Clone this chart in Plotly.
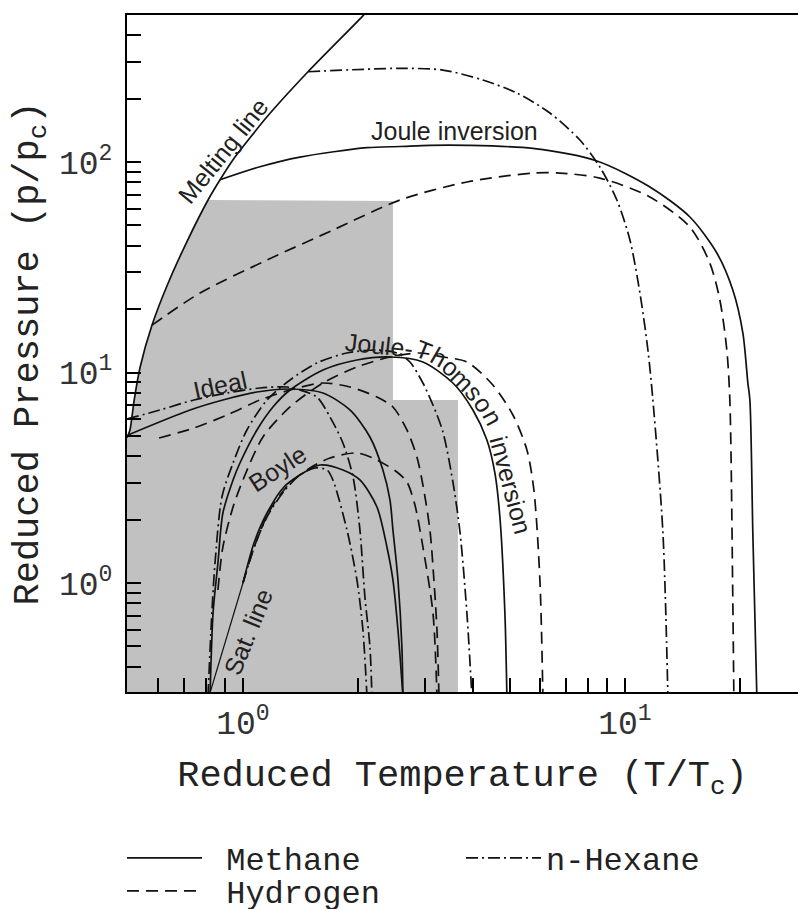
import numpy as np
import plotly.graph_objects as go

# ---------------- data (reduced temperature T/Tc, reduced pressure p/pc) ----------------
melt_T = [0.497, 0.506, 0.519, 0.538, 0.578, 0.633, 0.713, 0.810, 0.871, 0.942, 1.156, 1.480, 2.061, 2.10]
melt_p = [4.9, 5.33, 7.40, 10.62, 16.8, 25.9, 41.8, 66.0, 82.4, 102.6, 164.0, 268.5, 495, 515]

sat_T = [0.815, 1.0]
sat_p = [0.29, 1.0]

shade_T = [0.49, 0.497, 0.506, 0.519, 0.538, 0.578, 0.633, 0.713, 0.810, 2.47, 2.47, 3.655, 3.655, 0.49]
shade_p = [0.29, 4.9, 5.33, 7.40, 10.62, 16.8, 25.9, 41.8, 66.0, 65.3, 7.40, 7.40, 0.29, 0.29]

# Joule inversion curves
ji_methane_T = [0.871, 1.108, 1.410, 2.112, 2.576, 3.087, 3.86, 5.74, 8.45, 11.63, 14.80, 17.41, 19.17, 20.37, 20.99, 21.25, 21.63, 22.16]
ji_methane_p = [82.4, 95.0, 105.6, 117.0, 118.5, 120.0, 120.0, 116.0, 101.1, 76.1, 54.8, 36.96, 24.66, 15.40, 8.92, 7.40, 1.727, 0.29]
ji_hydrogen_T = [0.578, 0.772, 1.156, 1.720, 2.576, 3.86, 5.74, 6.76, 8.60, 11.63, 14.80, 16.69, 17.73, 18.49, 18.83, 19.17, 19.29]
ji_hydrogen_p = [16.8, 23.86, 34.22, 47.5, 66.0, 80.4, 88.6, 88.6, 83.9, 68.2, 49.1, 33.1, 22.1, 12.79, 7.40, 0.830, 0.29]
ji_hexane_T = [1.480, 2.576, 3.339, 4.249, 5.216, 6.364, 7.625, 8.60, 9.53, 10.31, 10.95, 11.49, 11.84, 12.58, 12.96]
ji_hexane_p = [268.5, 278.7, 273.5, 245.2, 212.7, 170.9, 127.2, 94.7, 66.0, 42.6, 23.86, 12.79, 7.40, 1.727, 0.29]

# Joule-Thomson inversion curves
jt_methane_T = [0.820, 0.835, 0.860, 0.886, 0.942, 0.982, 1.088, 1.198, 1.328, 1.620, 1.988, 2.426, 2.959, 3.546, 4.000, 4.353, 4.567, 4.707, 4.851, 4.910]
jt_methane_p = [0.29, 0.720, 1.245, 2.150, 3.086, 3.716, 5.332, 6.858, 8.257, 10.28, 11.47, 11.85, 11.22, 8.915, 6.636, 4.779, 3.332, 2.058, 0.720, 0.29]
jt_hydrogen_T = [0.860, 0.886, 0.942, 1.0, 1.128, 1.328, 1.620, 1.988, 2.426, 2.906, 3.339, 3.858, 4.512, 5.091, 5.540, 5.778, 5.991, 6.100]
jt_hydrogen_p = [0.926, 1.483, 2.296, 3.086, 4.939, 6.858, 8.915, 10.62, 11.85, 12.38, 11.85, 11.22, 8.722, 6.283, 4.284, 2.765, 1.033, 0.29]
jt_hexane_T = [0.810, 0.829, 0.845, 0.881, 0.942, 1.024, 1.156, 1.328, 1.562, 1.872, 2.243, 2.530, 2.736, 2.959, 3.144, 3.339, 3.546, 3.700, 3.858, 3.976]
jt_hexane_p = [0.29, 0.720, 1.245, 2.563, 3.716, 5.332, 7.402, 9.213, 11.10, 12.38, 12.79, 12.38, 11.22, 8.915, 7.01, 5.216, 3.018, 1.747, 0.720, 0.29]

# Ideal curves (Z = 1)
ideal_methane_T = [0.500, 0.727, 0.886, 1.088, 1.328, 1.620, 1.906, 2.150, 2.325, 2.426, 2.470, 2.546, 2.607, 2.623]
ideal_methane_p = [5.049, 6.636, 7.402, 8.078, 8.348, 7.990, 6.636, 4.939, 3.443, 2.480, 1.786, 1.033, 0.497, 0.29]
ideal_hydrogen_T = [0.603, 0.744, 0.908, 1.108, 1.328, 1.620, 1.906, 2.243, 2.470, 2.687, 2.854, 2.959, 3.087, 3.162, 3.221, 3.260]
ideal_hydrogen_p = [4.886, 5.449, 6.283, 7.402, 8.257, 8.915, 8.533, 7.648, 6.858, 5.332, 3.969, 2.921, 1.786, 1.033, 0.598, 0.29]
ideal_hexane_T = [0.497, 0.606, 0.744, 0.908, 1.108, 1.304, 1.410, 1.562, 1.690, 1.827, 1.941, 2.024, 2.086, 2.150, 2.176]
ideal_hexane_p = [6.013, 6.636, 7.402, 7.990, 8.440, 8.533, 8.257, 7.648, 6.146, 4.625, 3.2, 1.786, 0.858, 0.497, 0.29]

# Boyle curves
boyle_methane_T = [1.0, 1.069, 1.156, 1.280, 1.410, 1.591, 1.827, 2.024, 2.243, 2.382, 2.470, 2.546, 2.623]
boyle_methane_p = [1.0, 1.549, 2.150, 2.858, 3.260, 3.636, 3.443, 3.086, 2.296, 1.483, 1.033, 0.598, 0.29]
boyle_hydrogen_T = [1.0, 1.075, 1.177, 1.328, 1.497, 1.690, 1.988, 2.243, 2.530, 2.687, 2.820, 2.959, 3.144, 3.221]
boyle_hydrogen_p = [1.0, 1.515, 2.222, 2.986, 3.518, 3.925, 4.146, 3.839, 3.368, 3.018, 2.347, 1.483, 0.720, 0.29]
boyle_hexane_T = [1.0, 1.075, 1.163, 1.288, 1.410, 1.543, 1.660, 1.720, 1.872, 1.988, 2.061, 2.112]
boyle_hexane_p = [1.0, 1.515, 2.104, 2.765, 3.260, 3.518, 3.443, 3.086, 1.786, 1.033, 0.598, 0.29]

# axis ticks (labelled decades; every 1..9 multiple gets an unlabelled minor tick)
x_major = [1, 10]
x_major_text = ["10<sup>0</sup>", "10<sup>1</sup>"]
y_major = [1, 10, 100]
y_major_text = ["10<sup>0</sup>", "10<sup>1</sup>", "10<sup>2</sup>"]

# ---------------- styles ----------------
INK = "#111111"
LW = 1.7
styles = {
    "Methane": dict(color=INK, width=LW, dash="solid"),
    "Hydrogen": dict(color=INK, width=LW, dash="12px,7px"),
    "n-Hexane": dict(color=INK, width=LW, dash="12px,4px,2px,4px"),
}
legend_of = {"Methane": "legend", "n-Hexane": "legend2", "Hydrogen": "legend3"}
legend_name = {"Methane": "&nbsp;Methane", "n-Hexane": "n-Hexane", "Hydrogen": "&nbsp;Hydrogen"}

fig = go.Figure()

# grey shaded region
fig.add_trace(go.Scatter(x=shade_T, y=shade_p, mode="lines", fill="toself",
                         fillcolor="#c1c1c1", line=dict(width=0), hoverinfo="skip",
                         showlegend=False))

curves = [
    ("Methane", ji_methane_T, ji_methane_p),
    ("Hydrogen", ji_hydrogen_T, ji_hydrogen_p),
    ("n-Hexane", ji_hexane_T, ji_hexane_p),
    ("Methane", jt_methane_T, jt_methane_p),
    ("Hydrogen", jt_hydrogen_T, jt_hydrogen_p),
    ("n-Hexane", jt_hexane_T, jt_hexane_p),
    ("Methane", ideal_methane_T, ideal_methane_p),
    ("Hydrogen", ideal_hydrogen_T, ideal_hydrogen_p),
    ("n-Hexane", ideal_hexane_T, ideal_hexane_p),
    ("Methane", boyle_methane_T, boyle_methane_p),
    ("Hydrogen", boyle_hydrogen_T, boyle_hydrogen_p),
    ("n-Hexane", boyle_hexane_T, boyle_hexane_p),
]
shown = set()
for name, T, p in curves:
    fig.add_trace(go.Scatter(x=T, y=p, mode="lines", name=legend_name[name],
                             line=dict(shape="spline", smoothing=0.8, **styles[name]),
                             legend=legend_of[name], showlegend=name not in shown))
    shown.add(name)

fig.add_trace(go.Scatter(x=melt_T, y=melt_p, mode="lines",
                         line=dict(color=INK, width=LW, shape="spline", smoothing=0.6),
                         showlegend=False))
fig.add_trace(go.Scatter(x=sat_T, y=sat_p, mode="lines", line=dict(color=INK, width=1.2),
                         showlegend=False))

# ---------------- labels ----------------
lab_font = dict(family="Liberation Sans, Arial, sans-serif", size=25, color="#231f20")
labels = [
    ("Melting line", 0.886, 112.8, -51),
    ("Joule inversion", 3.589, 140.4, 0),
    ("Ideal", 0.871, 8.72, -12),
    ("Boyle", 1.235, 3.52, -33),
    ("Sat. line", 1.031, 0.585, -68),
    ("Joule-", 2.270, 13.51, 6),
    ("T", 2.977, 12.79, 22),
    ("h", 3.260, 11.85, 30),
    ("o", 3.503, 10.62, 38),
    ("m", 3.766, 9.21, 45),
    ("s", 4.050, 7.99, 52),
    ("o", 4.275, 7.09, 57),
    ("n", 4.512, 6.146, 62),
    ("inversion", 5.030, 2.921, 75),
]
for txt, tx, py, ang in labels:
    fig.add_annotation(x=np.log10(tx), y=np.log10(py), xref="x", yref="y", text=txt,
                       showarrow=False, textangle=ang, font=lab_font,
                       xanchor="center", yanchor="middle")

mono = "Liberation Mono, Courier New, monospace"
axis_common = dict(type="log", showline=True, linecolor="black", linewidth=2,
                   ticks="inside", ticklen=14, tickwidth=1.5, tickcolor="black",
                   showgrid=False, zeroline=False, tickmode="array",
                   tickfont=dict(family=mono, size=33, color="#333333"))
minor_common = dict(ticks="inside", ticklen=14, tickwidth=1.5, tickcolor="black",
                    showgrid=False, dtick="D1")

leg_font = dict(family=mono, size=32, color="#222222")
leg_common = dict(xref="container", yref="container", orientation="h",
                  xanchor="left", yanchor="middle", itemwidth=75, font=leg_font,
                  bgcolor="rgba(0,0,0,0)", borderwidth=0)
fig.update_layout(
    width=798, height=909,
    margin=dict(l=127, r=0, t=15, b=217),
    plot_bgcolor="white", paper_bgcolor="white",
    xaxis=dict(range=[np.log10(0.497), np.log10(28.4)], mirror=True,
               tickvals=x_major, ticktext=x_major_text, ticklabelstandoff=0,
               minor=minor_common,
               title=dict(text="Reduced Temperature (T/T<sub>c</sub>)", standoff=18,
                          font=dict(family=mono, size=37, color="#222222")),
               **axis_common),
    yaxis=dict(range=[np.log10(0.3034), np.log10(499.5)],
               tickvals=y_major, ticktext=y_major_text, ticklabelstandoff=6,
               minor=minor_common,
               title=dict(text="Reduced Pressure (p/p<sub>c</sub>)", standoff=9,
                          font=dict(family=mono, size=37, color="#222222")),
               **axis_common),
    legend=dict(x=0.1529, y=0.0561, **leg_common),
    legend2=dict(x=0.5777, y=0.0561, **leg_common),
    legend3=dict(x=0.1529, y=0.0198, **leg_common),
)

fig.write_html("out.html")
